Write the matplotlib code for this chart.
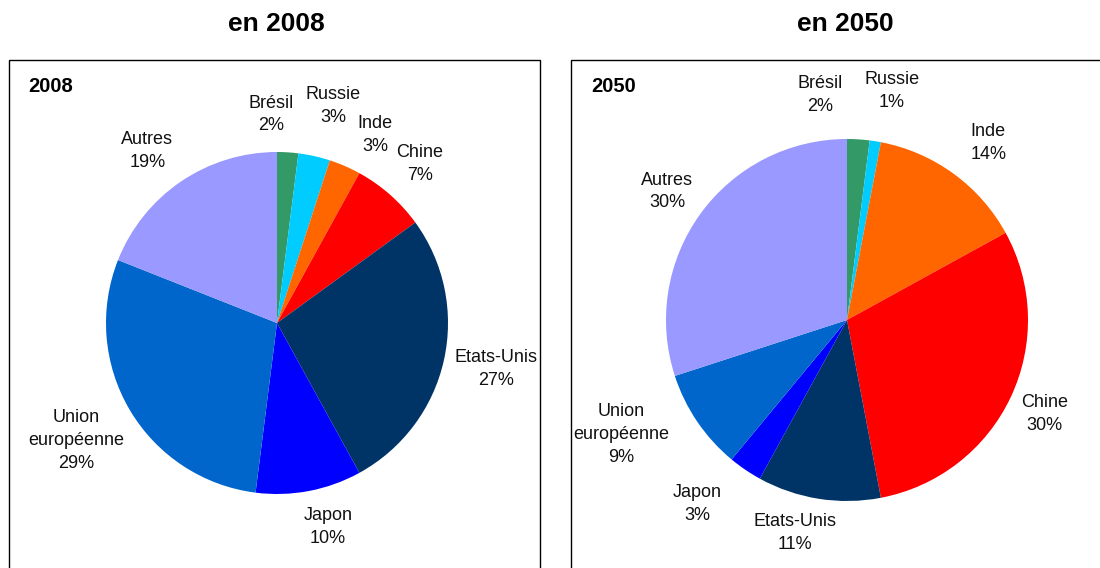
import matplotlib
matplotlib.use("Agg")
import matplotlib.pyplot as plt
from matplotlib.patches import Rectangle
import numpy as np

plt.rcParams['font.family'] = ['Liberation Sans', 'DejaVu Sans']

# ---- data ----
categories = ["Brésil", "Russie", "Inde", "Chine", "Etats-Unis", "Japon",
              "Union\neuropéenne", "Autres"]
share_2008 = [2, 3, 3, 7, 27, 10, 29, 19]
share_2050 = [2, 1, 14, 30, 11, 3, 9, 30]
colors = ["#339966", "#00CCFF", "#FF6600", "#FF0000", "#003366", "#0000FF",
          "#0066CC", "#9999FF"]
titles = ["en 2008", "en 2050"]
inner_titles = ["2008", "2050"]

# ---- layout (pixels) ----
W, H = 1100, 568
fig = plt.figure(figsize=(W / 100, H / 100), dpi=100)
ax = fig.add_axes([0, 0, 1, 1])

panels = [
    dict(values=share_2008, center=(277, 323), radius=171,
         box=(9, 540), title_x=276, inner_x=28,
         dist=[1.22, 1.31, 1.24, 1.25, 1.31, 1.23, 1.36, 1.26],
         off=[-5.2, 1.9, 4.1, 0.5, -0.8, -3.2, 0.2, -2.8]),
    dict(values=share_2050, center=(847, 320), radius=181,
         box=(571, 1130), title_x=845, inner_x=591,
         dist=[1.25, 1.29, 1.25, 1.21, 1.21, 1.31, 1.40, 1.22],
         off=[-10.4, 2.1, 2.6, 0.2, 4.7, 5.0, 7.4, -0.4]),
]

for i, p in enumerate(panels):
    cx, cy = p["center"][0], H - p["center"][1]
    r = p["radius"]
    wedges, _ = ax.pie(p["values"], colors=colors, startangle=90,
                       counterclock=False, center=(cx, cy), radius=r,
                       wedgeprops=dict(linewidth=0, edgecolor="none"))
    total = sum(p["values"])
    for w, name, v, d, o in zip(wedges, categories, p["values"],
                                p["dist"], p["off"]):
        th = np.deg2rad((w.theta1 + w.theta2) / 2 - o)
        ax.text(cx + d * r * np.cos(th), cy + d * r * np.sin(th),
                f"{name}\n{round(100 * v / total)}%",
                ha="center", va="center", multialignment="center",
                fontsize=13, linespacing=1.45, color="#111111")
    x0, x1 = p["box"]
    ax.add_patch(Rectangle((x0, -20), x1 - x0, H - 60 + 20, fill=False,
                           edgecolor="black", linewidth=1.0))
    ax.text(p["title_x"], H - 24, titles[i], ha="center", va="center",
            fontsize=19, fontweight="bold")
    ax.text(p["inner_x"], H - 87, inner_titles[i], ha="left", va="center",
            fontsize=14.5, fontweight="bold")

ax.set_xlim(0, W)
ax.set_ylim(0, H)
ax.set_aspect("auto")
ax.axis("off")

fig.savefig("out.png", dpi=100)
